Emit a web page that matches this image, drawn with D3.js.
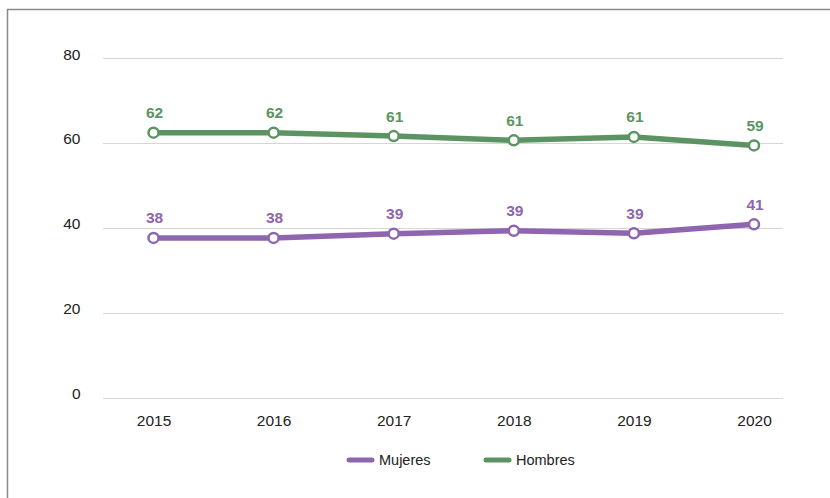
<!DOCTYPE html>
<html>
<head>
<meta charset="utf-8">
<script src="https://cdn.jsdelivr.net/npm/d3@7"></script>
<style>
  body { margin: 0; background: #fff; }
  svg { font-family: "Liberation Sans", Arial, Helvetica, sans-serif; }
  .grid line { stroke: #d6d6d6; stroke-width: 1.2; }
  .axis text { font-size: 15.5px; fill: #222; }
  .lbl { font-size: 15.5px; font-weight: bold; }
</style>
</head>
<body>
<div id="chart"></div>
<script>
var years = ["2015", "2016", "2017", "2018", "2019", "2020"];
var mujeres = [37.6, 37.6, 38.6, 39.3, 38.7, 40.8];
var hombres = [62.4, 62.4, 61.6, 60.6, 61.4, 59.4];
var mujeresLabels = ["38", "38", "39", "39", "39", "41"];
var hombresLabels = ["62", "62", "61", "61", "61", "59"];
var yTicks = [0, 20, 40, 60, 80];

var series = [
    {name: "Mujeres", values: mujeres, labels: mujeresLabels, color: "#8e65ae"},
    {name: "Hombres", values: hombres, labels: hombresLabels, color: "#5b9462"}
];

var width = 830, height = 498;

var svg = d3.select("#chart").append("svg")
    .attr("width", width)
    .attr("height", height);

// frame
svg.append("rect")
    .attr("x", 7.5).attr("y", 9.5)
    .attr("width", 840).attr("height", 520)
    .attr("fill", "none")
    .attr("stroke", "#8a8a8a")
    .attr("stroke-width", 1.5);

var x = d3.scalePoint()
    .domain(years)
    .range([153.5, 754]);

var y = d3.scaleLinear()
    .domain([0, 80])
    .range([397.5, 58]);

var gridLeft = 103, gridRight = 783;

svg.append("g")
    .attr("class", "grid")
    .selectAll("line")
    .data(yTicks)
    .enter().append("line")
    .attr("x1", gridLeft).attr("x2", gridRight)
    .attr("y1", function(d) { return Math.round(y(d)) + 0.5; })
    .attr("y2", function(d) { return Math.round(y(d)) + 0.5; });

svg.append("g")
    .attr("class", "axis axis--y")
    .attr("transform", "translate(80.5,0)")
    .call(d3.axisLeft(y).tickValues(yTicks).tickSize(0).tickPadding(0))
    .call(function(g) { g.select(".domain").remove(); })
    .selectAll("text").attr("dy", "1");

svg.append("g")
    .attr("class", "axis axis--x")
    .attr("transform", "translate(0,414.5)")
    .call(d3.axisBottom(x).tickSize(0).tickPadding(0))
    .call(function(g) { g.select(".domain").remove(); })
    .selectAll("text").attr("dy", "0.71em");

svg.selectAll(".axis text").attr("font-family", null).attr("font-size", null);

var line = d3.line()
    .x(function(d, i) { return x(years[i]); })
    .y(function(d) { return y(d); });

series.forEach(function(s) {
    var g = svg.append("g").attr("class", "series");

    g.append("path")
        .datum(s.values)
        .attr("d", line)
        .attr("fill", "none")
        .attr("stroke", s.color)
        .attr("stroke-width", 5.5)
        .attr("stroke-linejoin", "round");

    g.selectAll("circle")
        .data(s.values)
        .enter().append("circle")
        .attr("cx", function(d, i) { return x(years[i]); })
        .attr("cy", function(d) { return y(d); })
        .attr("r", 5)
        .attr("fill", "#fff")
        .attr("stroke", s.color)
        .attr("stroke-width", 2.5);

    g.selectAll("text")
        .data(s.values)
        .enter().append("text")
        .attr("class", "lbl")
        .attr("x", function(d, i) { return x(years[i]) + 1; })
        .attr("y", function(d) { return y(d) - 14.5; })
        .attr("text-anchor", "middle")
        .attr("fill", s.color)
        .text(function(d, i) { return s.labels[i]; });
});

// legend
var legend = svg.append("g").attr("class", "legend");
var legendX = [347, 484];
series.forEach(function(s, i) {
    var lg = legend.append("g").attr("transform", "translate(" + legendX[i] + ",460)");
    lg.append("line")
        .attr("x1", 2).attr("x2", 25)
        .attr("stroke", s.color)
        .attr("stroke-width", 5)
        .attr("stroke-linecap", "round");
    lg.append("text")
        .attr("x", 32)
        .attr("dy", "0.35em")
        .attr("font-size", 14.5)
        .attr("fill", "#222")
        .text(s.name);
});
</script>
</body>
</html>
